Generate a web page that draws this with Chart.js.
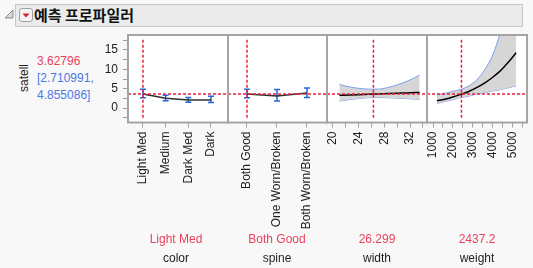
<!DOCTYPE html>
<html>
<head>
<meta charset="utf-8">
<script src="https://cdn.jsdelivr.net/npm/chart.js@4.4.0/dist/chart.umd.min.js"></script>
<style>
  body { margin: 0; width: 533px; height: 268px; overflow: hidden; position: relative;
         background: #f8f8f8; font-family: "Liberation Sans", Arial, sans-serif; font-size: 12px; color: #1e1e1e; }
  .hdr { position: absolute; left: 15px; top: 4px; width: 506px; height: 21px; background: #ebebeb; border: 1px solid #c6c6c6; }
  .title { position: absolute; left: 34px; top: 4px; line-height: 22px; font-family: "Noto Sans CJK KR", sans-serif;
           font-weight: bold; font-size: 15px; color: #111; }
  .txt { position: absolute; line-height: 14px; white-space: nowrap; }
  .lab { position: absolute; width: 100px; text-align: center; line-height: 14px; white-space: nowrap; }
  canvas { position: absolute; }
</style>
</head>
<body>
<svg style="position:absolute;left:4px;top:9px" width="10" height="10"><polygon points="1,9 9,9 9,1" fill="#d8d8d8" stroke="#8a8a8a" stroke-width="1"/></svg>
<div class="hdr"></div>
<svg style="position:absolute;left:19px;top:8px" width="15" height="15">
  <rect x="0.5" y="0.5" width="13" height="13" rx="2.5" fill="#f4f4f4" stroke="#a0a0a0"/>
  <polygon points="3.5,5.5 10.5,5.5 7,9.5" fill="#d9202c"/>
</svg>
<div class="title">예측 프로파일러</div>

<div class="txt" style="left:4px;top:71px;width:40px;text-align:center;transform:rotate(-90deg)">satell</div>
<div class="txt" id="predVal" style="left:37px;top:54px;color:#ec3f5c"></div>
<div class="txt" id="predLo" style="left:37px;top:71px;color:#4a78e6"></div>
<div class="txt" id="predHi" style="left:37px;top:88px;color:#4a78e6"></div>

<canvas id="cColor" width="140" height="202" style="left:90px;top:33px"></canvas>
<canvas id="cSpine" width="103" height="202" style="left:226px;top:33px"></canvas>
<canvas id="cWidth" width="104" height="202" style="left:325px;top:33px"></canvas>
<canvas id="cWeight" width="104" height="202" style="left:425px;top:33px"></canvas>

<div class="lab" id="vColor" style="left:126px;top:232px;color:#ec3f5c"></div>
<div class="lab" id="vSpine" style="left:227px;top:232px;color:#ec3f5c"></div>
<div class="lab" id="vWidth" style="left:327px;top:232px;color:#ec3f5c"></div>
<div class="lab" id="vWeight" style="left:427px;top:232px;color:#ec3f5c"></div>
<div class="lab" style="left:126px;top:251px">color</div>
<div class="lab" style="left:227px;top:251px">spine</div>
<div class="lab" style="left:327px;top:251px">width</div>
<div class="lab" style="left:427px;top:251px">weight</div>

<script>
// current settings and prediction
const predicted = 3.62796;
const predictedLow = 2.710991;
const predictedHigh = 4.855086;
const curColor = 'Light Med';
const curSpine = 'Both Good';
const curWidth = 26.299;
const curWeight = 2437.2;

// color panel
const colorLevels = ['Light Med', 'Medium', 'Dark Med', 'Dark'];
const colorMean = [3.63, 2.55, 2.1, 2.1];
const colorLow = [2.71, 1.9, 1.5, 1.45];
const colorHigh = [4.86, 3.3, 2.75, 3.05];

// spine panel
const spineLevels = ['Both Good', 'One Worn/Broken', 'Both Worn/Broken'];
const spineMean = [3.63, 3.1, 3.9];
const spineLow = [2.71, 1.85, 2.75];
const spineHigh = [4.86, 4.8, 5.2];

// width panel
const widthX = [21, 22.5, 24, 25.5, 27, 28.5, 30, 31.5, 33.5];
const widthMean = [3.33, 3.4, 3.48, 3.57, 3.67, 3.76, 3.85, 3.93, 4.05];
const widthHigh = [6.1, 5.5, 5.1, 4.9, 4.9, 5.3, 6.0, 6.9, 8.5];
const widthLow = [1.8, 2.2, 2.5, 2.7, 2.75, 2.7, 2.6, 2.45, 2.25];

// weight panel
const weightX = [1200, 1600, 2000, 2400, 2800, 3200, 3600, 4000, 4400, 4800, 5200];
const weightMean = [1.9, 2.3, 2.85, 3.55, 4.3, 5.3, 6.45, 7.9, 9.6, 11.8, 14.3];
const weightHigh = [3.4, 3.8, 4.3, 4.8, 5.7, 7.2, 9.8, 13.5, 19.5, 28, 40];
const weightLow = [1.2, 1.7, 2.2, 2.7, 3.1, 3.6, 4.0, 4.4, 4.8, 5.25, 5.7];

// ticks
const yTicks = [-2.5, 0, 2.5, 5, 7.5, 10, 12.5, 15, 17.5];
const yTickLabels = [0, 5, 10, 15];
const widthTicks = [20, 22, 24, 26, 28, 30, 32, 34];
const widthTickLabels = [20, 24, 28, 32];
const weightTicks = [1000, 1500, 2000, 2500, 3000, 3500, 4000, 4500, 5000, 5500];
const weightTickLabels = [1000, 2000, 3000, 4000, 5000];

const yMin = -3.7, yMax = 18.85;
const RED = '#e8203c';
const BLUE = '#2466dc';
const BAND = '#7d9ef0';
const tickFont = { family: 'Liberation Sans', size: 12 };

document.getElementById('predVal').textContent = predicted;
document.getElementById('predLo').textContent = '[' + predictedLow + ',';
document.getElementById('predHi').textContent = predictedHigh + ']';
document.getElementById('vColor').textContent = curColor;
document.getElementById('vSpine').textContent = curSpine;
document.getElementById('vWidth').textContent = curWidth;
document.getElementById('vWeight').textContent = curWeight;

// white plot area + grey frame
const frame = {
  id: 'frame',
  beforeDraw(chart) {
    const a = chart.chartArea, c = chart.ctx;
    c.save();
    c.fillStyle = '#ffffff';
    c.fillRect(a.left, a.top, a.right - a.left, a.bottom - a.top);
    c.restore();
  },
  afterDraw(chart) {
    const a = chart.chartArea, c = chart.ctx;
    c.save();
    c.strokeStyle = '#a4a4a4';
    c.lineWidth = 2;
    c.strokeRect(a.left, a.top, a.right - a.left, a.bottom - a.top);
    c.restore();
  }
};

function refLines(xmin, xmax, cur) {
  return [{
    data: [{ x: xmin, y: predicted }, { x: xmax, y: predicted }],
    borderColor: RED, borderWidth: 1.5, borderDash: [3, 2]
  }, {
    data: [{ x: cur, y: -2.5 }, { x: cur, y: 17.6 }],
    borderColor: RED, borderWidth: 1.5, borderDash: [3, 2]
  }];
}

function catSets(levels, mean, low, high) {
  const pts = levels.map((l, i) => ({ x: i, y: mean[i] }));
  const bars = [];
  levels.forEach((l, i) => {
    bars.push({ x: i, y: low[i] }, { x: i, y: high[i] }, { x: i, y: null });
  });
  return [{
    data: pts, borderColor: '#303030', borderWidth: 1.5
  }, {
    data: bars, borderColor: BLUE, borderWidth: 1.5, spanGaps: false,
    pointStyle: 'line', pointRadius: 3, pointBorderColor: BLUE, pointBorderWidth: 1.5
  }];
}

function contSets(xs, mean, high, low) {
  return [{
    data: xs.map((x, i) => ({ x: x, y: mean[i] })),
    borderColor: '#000000', borderWidth: 1.5, cubicInterpolationMode: 'monotone'
  }, {
    data: xs.map((x, i) => ({ x: x, y: high[i] })),
    borderColor: BAND, borderWidth: 1, cubicInterpolationMode: 'monotone',
    fill: '+1', backgroundColor: '#d6d6d6'
  }, {
    data: xs.map((x, i) => ({ x: x, y: low[i] })),
    borderColor: BAND, borderWidth: 1, cubicInterpolationMode: 'monotone'
  }];
}

function makePanel(id, o) {
  return new Chart(document.getElementById(id), {
    type: 'line',
    data: { datasets: o.datasets },
    options: {
      animation: false,
      responsive: false,
      devicePixelRatio: 1,
      layout: { padding: o.padding, autoPadding: false },
      plugins: { legend: { display: false }, tooltip: { enabled: false } },
      elements: { point: { radius: 0 }, line: { fill: false } },
      scales: {
        x: {
          type: 'linear', min: o.xmin, max: o.xmax,
          afterBuildTicks: s => { s.ticks = o.ticks.map(v => ({ value: v })); },
          afterFit: s => { s.height = 112.5; s.paddingLeft = 0; s.paddingRight = 0; },
          ticks: {
            autoSkip: false, minRotation: 90, maxRotation: 90, padding: 4,
            color: '#1e1e1e', font: tickFont, callback: o.label
          },
          grid: { drawOnChartArea: false, tickLength: 5, color: '#a0a0a0' },
          border: { display: false }
        },
        y: {
          display: o.showY, min: yMin, max: yMax,
          afterBuildTicks: s => { s.ticks = yTicks.map(v => ({ value: v })); },
          afterFit: s => { s.width = o.showY ? 38 : 0; s.paddingTop = 0; s.paddingBottom = 0; },
          ticks: {
            autoSkip: false, padding: 5, color: '#1e1e1e', font: tickFont,
            callback: v => yTickLabels.includes(v) ? String(v) : ''
          },
          grid: { drawOnChartArea: false, tickLength: 5, color: '#a0a0a0' },
          border: { display: false }
        }
      }
    },
    plugins: [frame]
  });
}

makePanel('cColor', {
  showY: true, padding: { top: 2, right: 2 },
  xmin: -0.66, xmax: 3.75, ticks: [0, 1, 2, 3],
  label: v => colorLevels[v],
  datasets: refLines(-0.66, 3.75, colorLevels.indexOf(curColor)).concat(catSets(colorLevels, colorMean, colorLow, colorHigh))
});

makePanel('cSpine', {
  showY: false, padding: { top: 2, left: 2, right: 2 },
  xmin: -0.633, xmax: 2.667, ticks: [0, 1, 2],
  label: v => spineLevels[v],
  datasets: refLines(-0.633, 2.667, spineLevels.indexOf(curSpine)).concat(catSets(spineLevels, spineMean, spineLow, spineHigh))
});

makePanel('cWidth', {
  showY: false, padding: { top: 2, left: 2, right: 2 },
  xmin: 19.07, xmax: 34.64, ticks: widthTicks,
  label: v => widthTickLabels.includes(v) ? String(v) : '',
  datasets: refLines(19.07, 34.64, curWidth).concat(contSets(widthX, widthMean, widthHigh, widthLow))
});

makePanel('cWeight', {
  showY: false, padding: { top: 2, left: 2, right: 2 },
  xmin: 697, xmax: 5747, ticks: weightTicks,
  label: v => weightTickLabels.includes(v) ? String(v) : '',
  datasets: refLines(697, 5747, curWeight).concat(contSets(weightX, weightMean, weightHigh, weightLow))
});
</script>
</body>
</html>
